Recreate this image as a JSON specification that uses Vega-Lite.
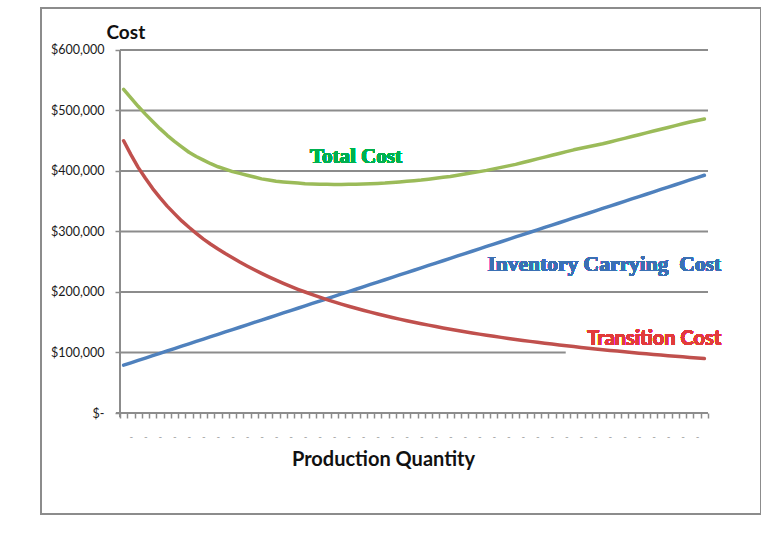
{
  "$schema": "https://vega.github.io/schema/vega-lite/v6.json",
  "width": 720,
  "height": 506,
  "autosize": {"type": "none"},
  "padding": {"left": 41, "top": 8, "right": 0, "bottom": 22},
  "background": "white",
  "config": {
    "view": {"stroke": "#8c8c8c", "strokeWidth": 2},
    "font": "Lato"
  },
  "data": {
    "values": [
      {"q":1,"inv":79000,"trans":450000,"total":535000},
      {"q":2,"inv":82900,"trans":427000,"total":521000},
      {"q":3,"inv":86900,"trans":406000,"total":507000},
      {"q":4,"inv":90800,"trans":388000,"total":494000},
      {"q":5,"inv":94700,"trans":371000,"total":482000},
      {"q":6,"inv":98600,"trans":356000,"total":470000},
      {"q":7,"inv":102600,"trans":342000,"total":459000},
      {"q":8,"inv":106500,"trans":329500,"total":449000},
      {"q":9,"inv":110400,"trans":317500,"total":440000},
      {"q":10,"inv":114300,"trans":307000,"total":431000},
      {"q":11,"inv":118300,"trans":297000,"total":424000},
      {"q":12,"inv":122200,"trans":287500,"total":418000},
      {"q":13,"inv":126100,"trans":279000,"total":412000},
      {"q":14,"inv":130000,"trans":271000,"total":407000},
      {"q":15,"inv":134000,"trans":263500,"total":403000},
      {"q":16,"inv":137900,"trans":256500,"total":399000},
      {"q":17,"inv":141800,"trans":249500,"total":396000},
      {"q":18,"inv":145700,"trans":243000,"total":393000},
      {"q":19,"inv":149700,"trans":236800,"total":390000},
      {"q":20,"inv":153600,"trans":230800,"total":387000},
      {"q":21,"inv":157500,"trans":225000,"total":385000},
      {"q":22,"inv":161400,"trans":219500,"total":383000},
      {"q":23,"inv":165400,"trans":214300,"total":382000},
      {"q":24,"inv":169300,"trans":209300,"total":381000},
      {"q":25,"inv":173200,"trans":204500,"total":380000},
      {"q":26,"inv":177100,"trans":200000,"total":379000},
      {"q":27,"inv":181100,"trans":195700,"total":378500},
      {"q":28,"inv":185000,"trans":191500,"total":378000},
      {"q":29,"inv":188900,"trans":187500,"total":378000},
      {"q":30,"inv":192800,"trans":183700,"total":377500},
      {"q":31,"inv":196800,"trans":180000,"total":377500},
      {"q":32,"inv":200700,"trans":176500,"total":378000},
      {"q":33,"inv":204600,"trans":173100,"total":378000},
      {"q":34,"inv":208500,"trans":169800,"total":378500},
      {"q":35,"inv":212500,"trans":166700,"total":379000},
      {"q":36,"inv":216400,"trans":163600,"total":379500},
      {"q":37,"inv":220300,"trans":160700,"total":380000},
      {"q":38,"inv":224200,"trans":157900,"total":381000},
      {"q":39,"inv":228200,"trans":155200,"total":382000},
      {"q":40,"inv":232100,"trans":152500,"total":383000},
      {"q":41,"inv":236000,"trans":150000,"total":384000},
      {"q":42,"inv":239900,"trans":147500,"total":385000},
      {"q":43,"inv":243900,"trans":145200,"total":386500},
      {"q":44,"inv":247800,"trans":142900,"total":388000},
      {"q":45,"inv":251700,"trans":140600,"total":389500},
      {"q":46,"inv":255600,"trans":138500,"total":391000},
      {"q":47,"inv":259600,"trans":136400,"total":393000},
      {"q":48,"inv":263500,"trans":134300,"total":395000},
      {"q":49,"inv":267400,"trans":132400,"total":397000},
      {"q":50,"inv":271300,"trans":130400,"total":399000},
      {"q":51,"inv":275300,"trans":128600,"total":401000},
      {"q":52,"inv":279200,"trans":126800,"total":403500},
      {"q":53,"inv":283100,"trans":125000,"total":406000},
      {"q":54,"inv":287000,"trans":123300,"total":408500},
      {"q":55,"inv":291000,"trans":121600,"total":411000},
      {"q":56,"inv":294900,"trans":120000,"total":414000},
      {"q":57,"inv":298800,"trans":118400,"total":417000},
      {"q":58,"inv":302700,"trans":116900,"total":420000},
      {"q":59,"inv":306700,"trans":115400,"total":423000},
      {"q":60,"inv":310600,"trans":113900,"total":426000},
      {"q":61,"inv":314500,"trans":112500,"total":429000},
      {"q":62,"inv":318400,"trans":111100,"total":432000},
      {"q":63,"inv":322400,"trans":109800,"total":435000},
      {"q":64,"inv":326300,"trans":108400,"total":437500},
      {"q":65,"inv":330200,"trans":107100,"total":440000},
      {"q":66,"inv":334100,"trans":105900,"total":442500},
      {"q":67,"inv":338100,"trans":104700,"total":445000},
      {"q":68,"inv":342000,"trans":103400,"total":448000},
      {"q":69,"inv":345900,"trans":102300,"total":451000},
      {"q":70,"inv":349800,"trans":101100,"total":454000},
      {"q":71,"inv":353800,"trans":100000,"total":457000},
      {"q":72,"inv":357700,"trans":98900,"total":460000},
      {"q":73,"inv":361600,"trans":97800,"total":463000},
      {"q":74,"inv":365500,"trans":96800,"total":466000},
      {"q":75,"inv":369500,"trans":95700,"total":469000},
      {"q":76,"inv":373400,"trans":94700,"total":472000},
      {"q":77,"inv":377300,"trans":93800,"total":475000},
      {"q":78,"inv":381200,"trans":92800,"total":478000},
      {"q":79,"inv":385200,"trans":91800,"total":481000},
      {"q":80,"inv":389100,"trans":90900,"total":483500},
      {"q":81,"inv":393000,"trans":90000,"total":486000}
    ]
  },
  "layer": [
    {
      "data": {"values": [{"cost":200000},{"cost":300000},{"cost":400000},{"cost":500000},{"cost":600000}]},
      "mark": {"type": "rule", "color": "#8c8c8c", "strokeWidth": 2},
      "encoding": {
        "x": {"datum": 0.5, "type": "quantitative", "title": "Production Quantity",
              "scale": {"domain": [-10.383, 88.8], "nice": false, "zero": false},
              "axis": {
                "orient": "bottom", "offset": -101, "domain": false, "grid": false,
                "values": [0.5,1.5,2.5,3.5,4.5,5.5,6.5,7.5,8.5,9.5,10.5,11.5,12.5,13.5,14.5,15.5,16.5,17.5,18.5,19.5,20.5,21.5,22.5,23.5,24.5,25.5,26.5,27.5,28.5,29.5,30.5,31.5,32.5,33.5,34.5,35.5,36.5,37.5,38.5,39.5,40.5,41.5,42.5,43.5,44.5,45.5,46.5,47.5,48.5,49.5,50.5,51.5,52.5,53.5,54.5,55.5,56.5,57.5,58.5,59.5,60.5,61.5,62.5,63.5,64.5,65.5,66.5,67.5,68.5,69.5,70.5,71.5,72.5,73.5,74.5,75.5,76.5,77.5,78.5,79.5,80.5,81.5],
                "tickCount": 500,
                "tickSize": 5, "tickColor": "#8c8c8c", "tickWidth": 1.5,
                "labelExpr": "(datum.value - 0.5) % 2 == 1 && datum.value < 81 ? '-' : ''",
                "labelOffset": 3.6, "labelOverlap": false, "labelBound": false, "labelFlush": false,
                "labelColor": "#9a9a9a", "labelFontSize": 10, "labelPadding": 13, "labelBaseline": "top",
                "titleX": 342, "titleY": 52, "titleBaseline": "alphabetic", "titleAlign": "center", "titleAnchor": null,
                "titleFont": "Lato", "titleFontSize": 20, "titleFontWeight": "bold", "titleColor": "#111111"
              }},
        "x2": {"datum": 81.5},
        "y": {"field": "cost", "type": "quantitative", "title": "Cost",
              "scale": {"domain": [-166942, 669421], "nice": false, "zero": false},
              "axis": {
                "orient": "left", "offset": -79, "domain": false, "grid": false,
                "values": [0,100000,200000,300000,400000,500000,600000],
                "tickCount": 50,
                "tickSize": 5, "tickColor": "#8c8c8c", "tickWidth": 1.5,
                "labelExpr": "datum.value == 0 ? '$-\u00a0\u00a0' : '$' + format(datum.value, ',')",
                "labelFont": "Lato", "labelFontSize": 12.5, "labelColor": "#1a1a1a", "labelPadding": 11,
                "titleAngle": 0, "titleX": -14, "titleY": 30, "titleAlign": "left", "titleBaseline": "alphabetic", "titleAnchor": null,
                "titleFont": "Lato", "titleFontSize": 19, "titleFontWeight": "bold", "titleColor": "#111111"
              }}
      }
    },
    {
      "data": {"values": [{"cost":100000}]},
      "mark": {"type": "rule", "color": "#8c8c8c", "strokeWidth": 2},
      "encoding": {
        "x": {"datum": 0.5, "type": "quantitative", "title": "Production Quantity"},
        "x2": {"datum": 61.9},
        "y": {"field": "cost", "type": "quantitative", "title": "Cost"}
      }
    },
    {
      "data": {"values": [{"cost":0}]},
      "mark": {"type": "rule", "color": "#8c8c8c", "strokeWidth": 2},
      "encoding": {
        "x": {"datum": -0.05, "type": "quantitative", "title": "Production Quantity"},
        "x2": {"datum": 81.5},
        "y": {"field": "cost", "type": "quantitative", "title": "Cost"}
      }
    },
    {
      "data": {"values": [{"cost":600000}]},
      "mark": {"type": "rule", "color": "#8c8c8c", "strokeWidth": 2},
      "encoding": {
        "x": {"datum": 0.5, "type": "quantitative", "title": "Production Quantity"},
        "y": {"field": "cost", "type": "quantitative", "title": "Cost"},
        "y2": {"datum": -7000}
      }
    },
    {
      "mark": {"type": "line", "color": "#4F81BD", "strokeWidth": 3.5, "strokeCap": "round", "strokeJoin": "round"},
      "encoding": {
        "x": {"field": "q", "type": "quantitative", "title": "Production Quantity"},
        "y": {"field": "inv", "type": "quantitative", "title": "Cost"}
      }
    },
    {
      "mark": {"type": "line", "color": "#C0504D", "strokeWidth": 3.5, "strokeCap": "round", "strokeJoin": "round"},
      "encoding": {
        "x": {"field": "q", "type": "quantitative", "title": "Production Quantity"},
        "y": {"field": "trans", "type": "quantitative", "title": "Cost"}
      }
    },
    {
      "mark": {"type": "line", "color": "#9BBB59", "strokeWidth": 3.5, "strokeCap": "round", "strokeJoin": "round"},
      "encoding": {
        "x": {"field": "q", "type": "quantitative", "title": "Production Quantity"},
        "y": {"field": "total", "type": "quantitative", "title": "Cost"}
      }
    },
    {
      "mark": {"type": "text", "text": "Total Cost", "font": "Liberation Serif", "fontWeight": "bold", "fontSize": 21, "color": "#00B050", "align": "center", "baseline": "middle"},
      "encoding": {
        "x": {"datum": 33.0, "type": "quantitative", "title": "Production Quantity"},
        "y": {"datum": 423000, "type": "quantitative", "title": "Cost"}
      }
    },
    {
      "mark": {"type": "text", "text": "Inventory Carrying \u00a0Cost", "font": "Liberation Serif", "fontWeight": "bold", "fontSize": 21.5, "color": "#3A70B4", "align": "center", "baseline": "middle"},
      "encoding": {
        "x": {"datum": 67.2, "type": "quantitative", "title": "Production Quantity"},
        "y": {"datum": 244600, "type": "quantitative", "title": "Cost"}
      }
    },
    {
      "mark": {"type": "text", "text": "Transition Cost", "font": "Lato", "fontWeight": "bold", "fontSize": 20, "color": "#E23B3B", "align": "center", "baseline": "middle"},
      "encoding": {
        "x": {"datum": 74.1, "type": "quantitative", "title": "Production Quantity"},
        "y": {"datum": 122300, "type": "quantitative", "title": "Cost"}
      }
    }
  ]
}
